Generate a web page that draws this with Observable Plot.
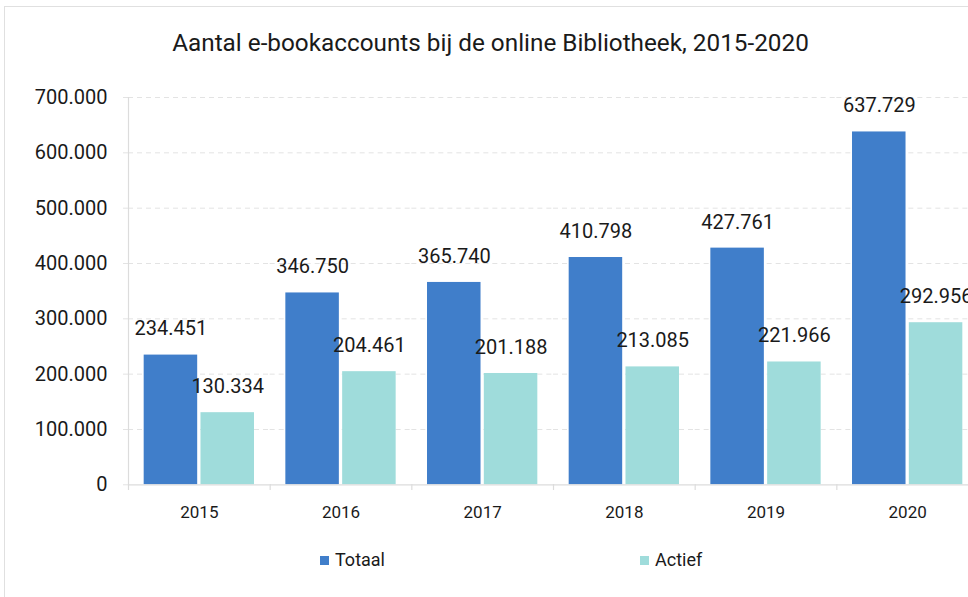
<!DOCTYPE html>
<html>
<head>
<meta charset="utf-8">
<script src="https://cdn.jsdelivr.net/npm/d3@7"></script>
<script src="https://cdn.jsdelivr.net/npm/@observablehq/plot@0.6"></script>
<style>
  html, body { margin: 0; padding: 0; background: #fff; overflow: hidden; width: 968px; height: 597px; }
  body { position: relative; font-family: Roboto, "DejaVu Sans", sans-serif; color: #1a1a1a; }
  #frame { position: absolute; left: 4px; top: 6px; width: 1000px; height: 620px; border-left: 1px solid #e0e0e0; border-top: 1px solid #e0e0e0; }
  #title { position: absolute; left: 0; top: 31px; width: 981px; text-align: center; font-size: 24.3px; line-height: 24px; white-space: nowrap; }
  #chart { position: absolute; left: 0; top: 70px; width: 980px; }
  #chart svg { max-width: none !important; display: block; }
  .leg { position: absolute; top: 551px; font-size: 18px; line-height: 18px; white-space: nowrap; }
  .sw { position: absolute; top: 556px; width: 9px; height: 9px; }
</style>
</head>
<body>
<div id="frame"></div>
<div id="title">Aantal e-bookaccounts bij de online Bibliotheek, 2015-2020</div>
<div id="chart"></div>
<div id="legend"></div>
<script>
const years = ["2015", "2016", "2017", "2018", "2019", "2020"];
const totaal = [234451, 346750, 365740, 410798, 427761, 637729];
const actief = [130334, 204461, 201188, 213085, 221966, 292956];
const seriesNames = ["Totaal", "Actief"];
const seriesColors = ["#407ECA", "#9FDCDB"];
const yTicks = [0, 100000, 200000, 300000, 400000, 500000, 600000, 700000];

const nl = d3.formatLocale({decimal: ",", thousands: ".", grouping: [3], currency: ["€ ", ""]});
const fmt = nl.format(",d");

const data = years.flatMap((y, i) => [
  {year: y, series: "Totaal", value: totaal[i]},
  {year: y, series: "Actief", value: actief[i]}
]);

const W = 980, H = 474, ML = 128, MR = 2, MT = 27, MB = 60;
const bandFx = (W - ML - MR) / years.length;
const axisColor = "#dcdcdc";

const chart = Plot.plot({
  width: W,
  height: H,
  marginLeft: ML,
  marginRight: MR,
  marginTop: MT,
  marginBottom: MB,
  style: {fontFamily: "Roboto, 'DejaVu Sans', sans-serif", color: "#1a1a1a", background: "transparent", overflow: "visible", maxWidth: "none"},
  fx: {domain: years, padding: 0, round: false, label: null, axis: null},
  x: {domain: seriesNames, paddingInner: 0.058, paddingOuter: 0.276, round: false, axis: null},
  y: {domain: [0, 700000], range: [H - MB + 0.3, MT], axis: null, label: null},
  color: {domain: seriesNames, range: seriesColors},
  marks: [
    Plot.ruleY(yTicks.slice(1), {stroke: "#e3e3e3", strokeDasharray: "5,4"}),
    Plot.axisY(yTicks, {tickSize: 7, text: null, label: null, stroke: "#e3e3e3", strokeDasharray: "5,4"}),
    Plot.axisY(yTicks, {tickSize: 0, tickPadding: 21, fontSize: 20, fill: "#1a1a1a", tickFormat: fmt, label: null}),
    Plot.barY(data, {fx: "year", x: "series", y: "value", fill: "series"}),
    Plot.ruleY([0], {stroke: axisColor, strokeWidth: 1.2}),
    Plot.frame({anchor: "left", stroke: axisColor, strokeWidth: 1.2, facetAnchor: "left"}),
    Plot.axisFx({anchor: "bottom", text: null, label: null, tickSize: 6, dx: -bandFx / 2, stroke: axisColor, strokeWidth: 1.2}),
    Plot.axisFx({anchor: "bottom", tickSize: 0, tickPadding: 21, fontSize: 17, fill: "#1a1a1a", label: null}),
    Plot.text(data, {fx: "year", x: "series", y: "value", text: d => fmt(d.value), dy: -26, fontSize: 20, fill: "#1a1a1a"})
  ]
});
document.getElementById("chart").append(chart);

const legendPos = [320, 640];
const legend = document.getElementById("legend");
seriesNames.forEach((name, i) => {
  const sw = document.createElement("div");
  sw.className = "sw";
  sw.style.left = legendPos[i] + "px";
  sw.style.background = seriesColors[i];
  legend.append(sw);
  const t = document.createElement("div");
  t.className = "leg";
  t.style.left = (legendPos[i] + 15) + "px";
  t.textContent = name;
  legend.append(t);
});
</script>
</body>
</html>
